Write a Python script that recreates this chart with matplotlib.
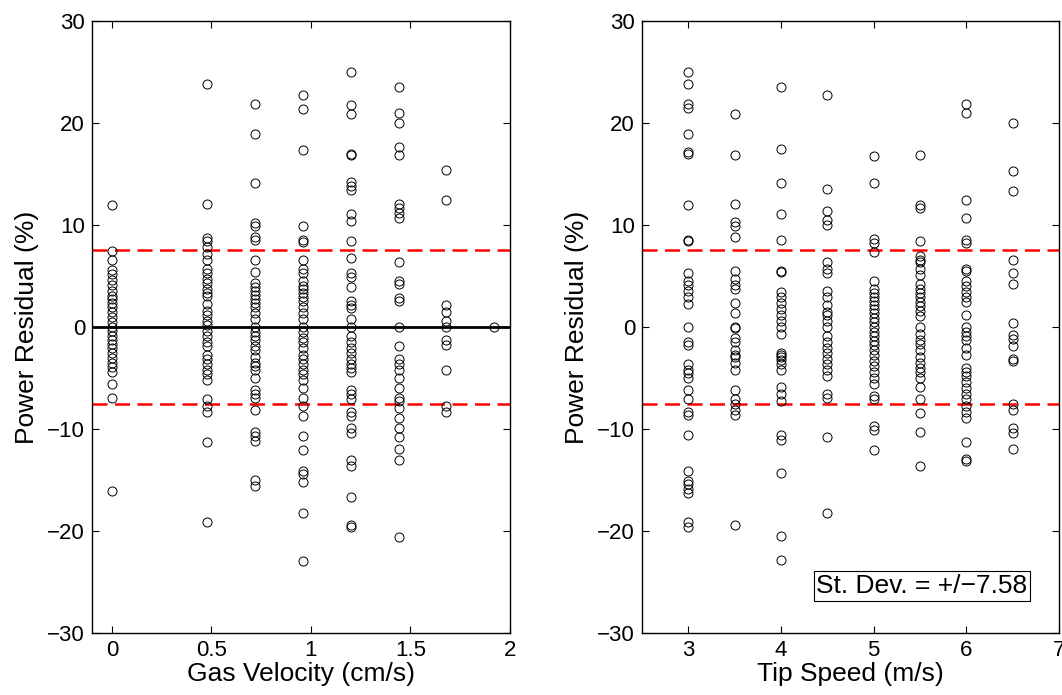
import numpy as np
import matplotlib
matplotlib.use('Agg')
import matplotlib.pyplot as plt

plt.rcParams['font.family'] = ['Liberation Sans', 'DejaVu Sans']

# residuals (%) per gas velocity (cm/s)
gas_levels = [0.0, 0.48, 0.72, 0.96, 1.20, 1.44, 1.68, 1.92]
res_gv_000 = [12.0, 7.5, 6.6, 5.6, 5.2, 4.6, 4.1, 3.5, 3.0, 2.7, 2.4, 2.0, 1.5, 1.0, 0.5, 0.0,
              -0.4, -0.9, -1.3, -1.7, -2.1, -2.5, -3.0, -3.5, -3.9, -4.4, -5.6, -7.0, -16.1]
res_gv_048 = [23.8, 12.1, 8.7, 8.4, 7.8, 7.2, 6.6, 5.7, 5.3, 4.7, 4.3, 3.7, 3.3, 3.0, 2.3, 1.6,
              1.2, 0.6, 0.2, -0.35, -0.9, -1.5, -1.9, -2.7, -3.1, -3.6, -4.2, -4.6, -5.2, -7.1,
              -7.7, -8.3, -11.3, -19.1]
res_gv_072 = [21.9, 18.9, 14.1, 10.2, 9.9, 8.8, 8.5, 6.6, 5.4, 4.3, 3.9, 3.5, 3.1, 2.75, 2.4,
              2.0, 1.4, 0.8, 0.0, -0.5, -0.9, -1.3, -1.9, -2.3, -2.9, -3.5, -3.8, -4.2, -5.0,
              -6.2, -6.6, -7.0, -8.1, -10.25, -10.7, -11.2, -15.0, -15.6]
res_gv_096 = [22.75, 21.4, 17.4, 9.86, 8.5, 8.3, 6.6, 5.67, 5.3, 4.5, 4.0, 3.7, 3.3, 2.95, 2.56,
              2.0, 1.4, 0.8, 0.0, -0.5, -1.1, -1.5, -2.1, -2.7, -3.1, -3.6, -4.2, -4.6, -5.2,
              -6.0, -7.0, -7.7, -8.7, -10.7, -12.1, -14.1, -14.4, -15.2, -18.2, -22.9]
res_gv_120 = [25.0, 21.8, 20.9, 17.0, 16.9, 14.2, 13.8, 13.4, 11.1, 10.4, 8.4, 6.8, 5.3, 4.9,
              3.9, 2.56, 2.2, 1.9, 0.8, 0.0, -0.9, -1.5, -2.1, -2.5, -3.1, -3.6, -4.0, -4.4,
              -6.2, -6.6, -7.1, -8.3, -8.7, -9.9, -10.4, -13.0, -13.6, -16.7, -19.4, -19.6]
res_gv_144 = [23.5, 21.0, 20.0, 17.6, 16.9, 12.1, 11.7, 11.2, 10.7, 6.4, 4.5, 4.2, 2.8, 2.56,
              0.0, -1.9, -3.1, -3.6, -4.2, -5.0, -6.0, -7.0, -7.3, -7.9, -8.9, -9.9, -10.8,
              -12.0, -13.0, -20.6]
res_gv_168 = [15.4, 12.5, 2.2, 1.5, 0.6, 0.0, -1.3, -1.8, -4.2, -7.7, -8.3]
res_gv_192 = [0.0]

# residuals (%) per tip speed (m/s)
tip_levels = [3.0, 3.5, 4.0, 4.5, 5.0, 5.5, 6.0, 6.5]
res_ts_30 = [25.0, 23.8, 21.9, 21.5, 18.9, 17.2, 17.0, 12.0, 8.5, 8.4, 5.3, 4.5, 4.1, 3.5, 2.95,
             2.25, 0.0, -1.5, -1.8, -3.6, -4.2, -4.5, -5.0, -6.2, -7.1, -8.3, -8.6, -10.6,
             -14.1, -15.1, -15.4, -15.9, -16.3, -19.1, -19.6]
res_ts_35 = [20.9, 16.9, 12.1, 10.25, 9.9, 8.8, 5.5, 4.7, 4.1, 3.7, 2.4, 1.4, 0.0, -0.1, -1.1,
             -1.5, -2.3, -2.7, -2.9, -3.5, -4.2, -6.2, -7.1, -7.5, -8.1, -8.6, -19.4]
res_ts_40 = [23.5, 17.5, 14.1, 11.1, 8.5, 5.5, 5.4, 3.4, 2.95, 2.4, 1.8, 1.2, 0.6, 0.0, -0.7,
             -2.5, -2.7, -2.9, -3.2, -3.6, -4.2, -5.9, -6.6, -7.3, -10.6, -11.1, -14.3,
             -20.5, -22.8]
res_ts_45 = [22.75, 13.5, 11.4, 10.5, 10.0, 6.4, 5.67, 5.3, 3.5, 2.95, 2.2, 1.5, 1.2, 0.6, 0.0,
             -0.9, -1.5, -2.1, -2.5, -3.1, -3.6, -4.2, -4.8, -6.6, -7.0, -10.8, -18.2]
res_ts_50 = [16.8, 14.1, 8.66, 8.2, 7.4, 4.5, 3.7, 3.3, 2.95, 2.56, 2.2, 1.8, 1.4, 0.9, 0.5,
             0.0, -0.5, -0.9, -1.4, -1.8, -2.3, -2.7, -3.3, -3.8, -4.4, -5.0, -5.6, -6.8,
             -7.1, -9.7, -10.1, -12.1]
res_ts_55 = [16.9, 12.0, 11.7, 8.4, 7.0, 6.6, 6.4, 5.7, 5.1, 4.2, 3.7, 3.3, 2.95, 2.5, 2.1,
             1.6, 1.1, 0.0, -0.7, -1.3, -1.7, -2.3, -2.9, -3.5, -4.0, -4.4, -5.0, -5.9, -7.1,
             -8.4, -10.3, -13.6]
res_ts_60 = [21.9, 21.0, 12.5, 10.7, 8.5, 8.2, 5.7, 5.5, 4.5, 4.0, 3.4, 2.95, 2.5, 1.2, 0.0,
             -0.5, -0.9, -1.3, -2.1, -2.7, -4.0, -4.4, -4.8, -5.4, -6.0, -6.6, -7.1, -7.7,
             -8.3, -8.9, -11.3, -12.9, -13.1]
res_ts_65 = [20.0, 15.3, 13.3, 6.6, 5.3, 4.2, 0.4, -0.8, -1.2, -1.9, -3.1, -3.3, -7.5, -8.1,
             -9.9, -10.4, -12.0]

st_dev = 7.58

gas_cols = [res_gv_000, res_gv_048, res_gv_072, res_gv_096,
            res_gv_120, res_gv_144, res_gv_168, res_gv_192]
tip_cols = [res_ts_30, res_ts_35, res_ts_40, res_ts_45,
            res_ts_50, res_ts_55, res_ts_60, res_ts_65]


def stack(levels, cols):
    x = np.concatenate([np.full(len(c), lv) for lv, c in zip(levels, cols)])
    y = np.concatenate([np.asarray(c, float) for c in cols])
    return x, y


def style_axes(ax):
    ax.set_ylim(-30, 30)
    ax.set_yticks([-30, -20, -10, 0, 10, 20, 30])
    ax.tick_params(direction='in', top=True, right=True, length=5, width=0.8,
                   labelsize=16, pad=5)
    for s in ax.spines.values():
        s.set_linewidth(1.0)
    ax.set_ylabel('Power Residual (%)', fontsize=19, labelpad=6)
    ax.axhline(st_dev, color='#ff0000', lw=1.8, ls=(0, (6, 3)), zorder=1)
    ax.axhline(-st_dev, color='#ff0000', lw=1.8, ls=(0, (6, 3)), zorder=1)


fig = plt.figure(figsize=(10.62, 6.95), dpi=100)
ax1 = fig.add_axes([92 / 1062, 62 / 695, 418 / 1062, 612 / 695])
ax2 = fig.add_axes([642 / 1062, 62 / 695, 417 / 1062, 612 / 695])

# left: gas velocity
x, y = stack(gas_levels, gas_cols)
ax1.axhline(0, color='black', lw=2.0, zorder=1)
ax1.plot(x, y, 'o', mfc='none', mec='black', mew=0.7, ms=6.5, zorder=2)
ax1.set_xlim(-0.1, 2)
ax1.set_xticks([0, 0.5, 1, 1.5, 2])
ax1.set_xticklabels(['0', '0.5', '1', '1.5', '2'])
style_axes(ax1)
ax1.set_xlabel('Gas Velocity (cm/s)', fontsize=19, labelpad=1)

# right: tip speed
x, y = stack(tip_levels, tip_cols)
ax2.plot(x, y, 'o', mfc='none', mec='black', mew=0.7, ms=6.5, zorder=2)
ax2.set_xlim(2.5, 7)
ax2.set_xticks([3, 4, 5, 6, 7])
style_axes(ax2)
ax2.set_xlabel('Tip Speed (m/s)', fontsize=19, labelpad=1)
ax2.text(5.52, -25.4, 'St. Dev. = +/\u2212' + f'{st_dev:.2f}', fontsize=19,
         ha='center', va='center',
         bbox=dict(boxstyle='square,pad=0.1', fc='white', ec='black', lw=0.8))

fig.savefig('out.png', dpi=100)
